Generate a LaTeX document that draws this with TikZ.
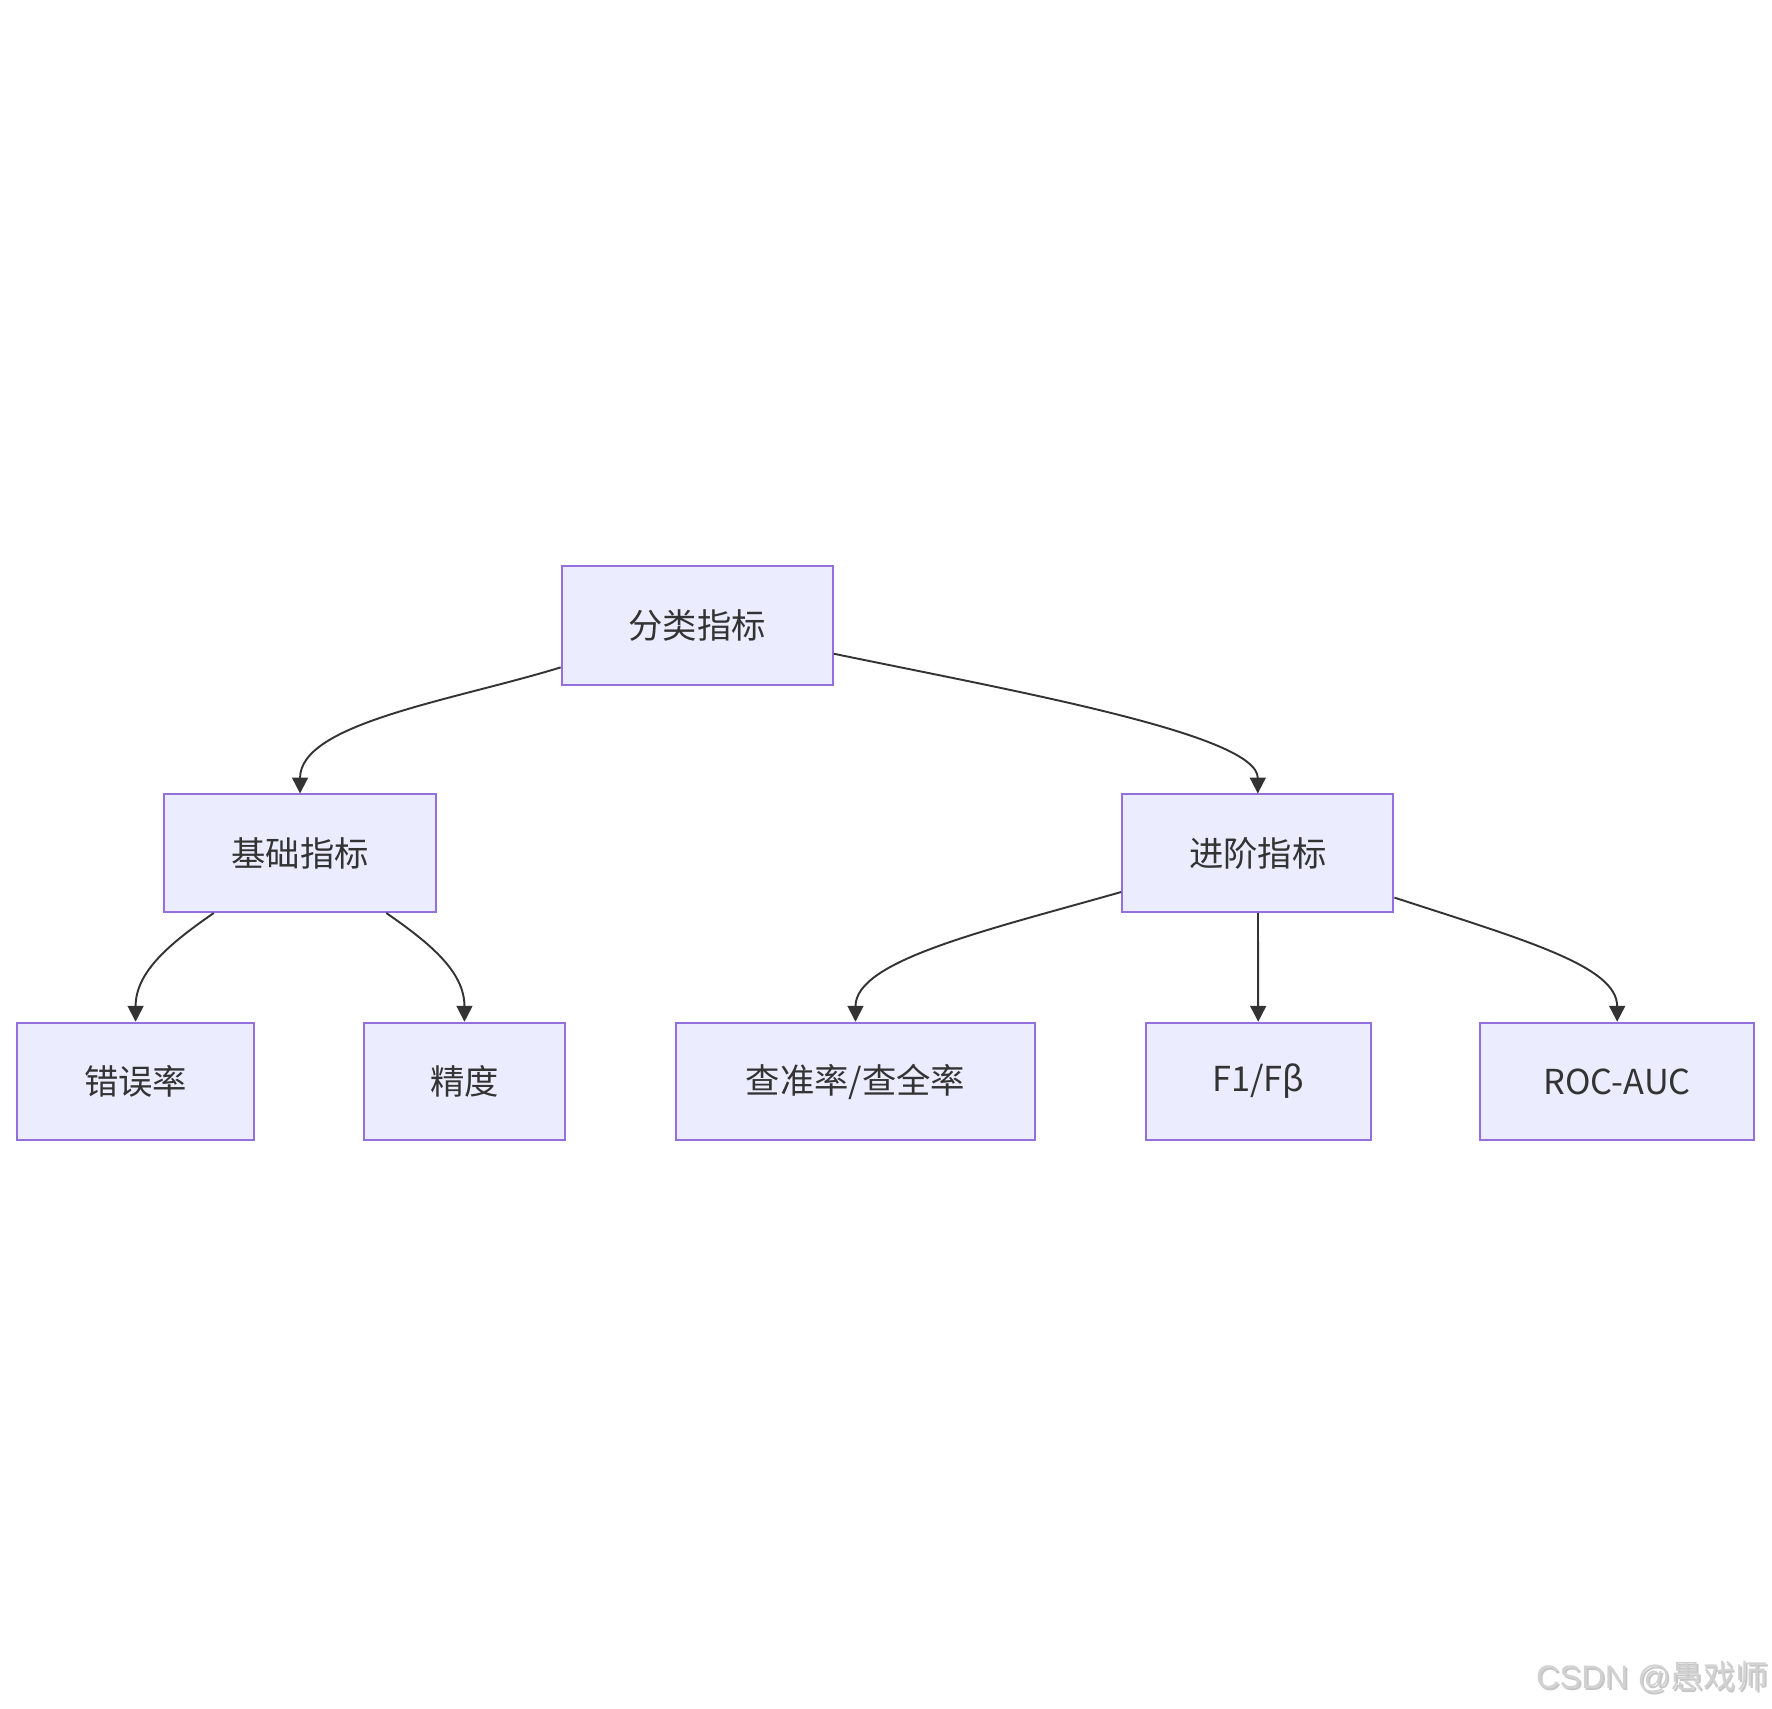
\documentclass[tikz,border=0pt]{standalone}
\usepackage{fontspec}
\setmainfont{Noto Sans CJK SC}
\newfontfamily\wmfont{Liberation Sans}
\newfontfamily\cjk{Noto Sans CJK SC}
\usetikzlibrary{arrows.meta}
\definecolor{boxfill}{HTML}{ECECFF}
\definecolor{boxline}{HTML}{9370DB}
\definecolor{edgecol}{HTML}{333333}
\definecolor{txt}{HTML}{333333}
\definecolor{wm}{HTML}{D2D2D2}
\begin{document}
\begin{tikzpicture}[x=0.5pt,y=-0.5pt,
  box/.style={draw=boxline,fill=boxfill,line width=0.9pt,inner sep=0pt,
    text=txt,font=\fontsize{15.2pt}{18pt}\selectfont,anchor=center},
  edge/.style={draw=edgecol,line width=0.85pt,
    -{Triangle[length=7pt,width=7pt]}}]
\useasboundingbox (0,0) rectangle (1568,1512);
\fill[white] (0,0) rectangle (1568,1512);
\node[box,minimum width=120pt,minimum height=52.5pt] (root) at (617,553.5) {分类指标};
\node[box,minimum width=120.5pt,minimum height=52pt] (base) at (265.5,755) {基础指标};
\node[box,minimum width=120pt,minimum height=52pt] (adv) at (1113,755) {进阶指标};
\node[box,minimum width=105pt,minimum height=52pt] (err) at (120,957) {错误率};
\node[box,minimum width=89pt,minimum height=52pt] (acc) at (411,957) {精度};
\node[box,minimum width=159pt,minimum height=52pt] (pr) at (757,957) {查准率/查全率};
\node[box,minimum width=99.5pt,minimum height=52pt] (f1) at (1113.5,957) {F1/Fβ};
\node[box,minimum width=121pt,minimum height=52pt] (roc) at (1431,957) {ROC-AUC};
\coordinate (c1) at (400,620);  \coordinate (c2) at (265.5,640);
\coordinate (c3) at (900,612);  \coordinate (c4) at (1113,650);
\coordinate (c5) at (150,835);  \coordinate (c6) at (120,860);
\coordinate (c7) at (381,835);  \coordinate (c8) at (411,860);
\coordinate (c9) at (870,824);  \coordinate (c10) at (757,850);
\coordinate (c11) at (1350,832); \coordinate (c12) at (1431,855);
\draw[edge] (root) .. controls (c1) and (c2) .. (base);
\draw[edge] (root) .. controls (c3) and (c4) .. (adv);
\draw[edge] (base) .. controls (c5) and (c6) .. (err);
\draw[edge] (base) .. controls (c7) and (c8) .. (acc);
\draw[edge] (adv) .. controls (c9) and (c10) .. (pr);
\draw[edge] (adv) -- (f1);
\draw[edge] (adv) .. controls (c11) and (c12) .. (roc);
\node[anchor=east,inner sep=0pt,text=gray!45,font=\wmfont\fontsize{14.4pt}{16pt}\selectfont] at (1566.5,1485.5) {CSDN @{\cjk 愚戏师}};
\node[anchor=east,inner sep=0pt,text=wm,font=\wmfont\fontsize{14.4pt}{16pt}\selectfont] (wmk) at (1565,1484) {CSDN @{\cjk 愚戏师}};
\end{tikzpicture}
\end{document}
